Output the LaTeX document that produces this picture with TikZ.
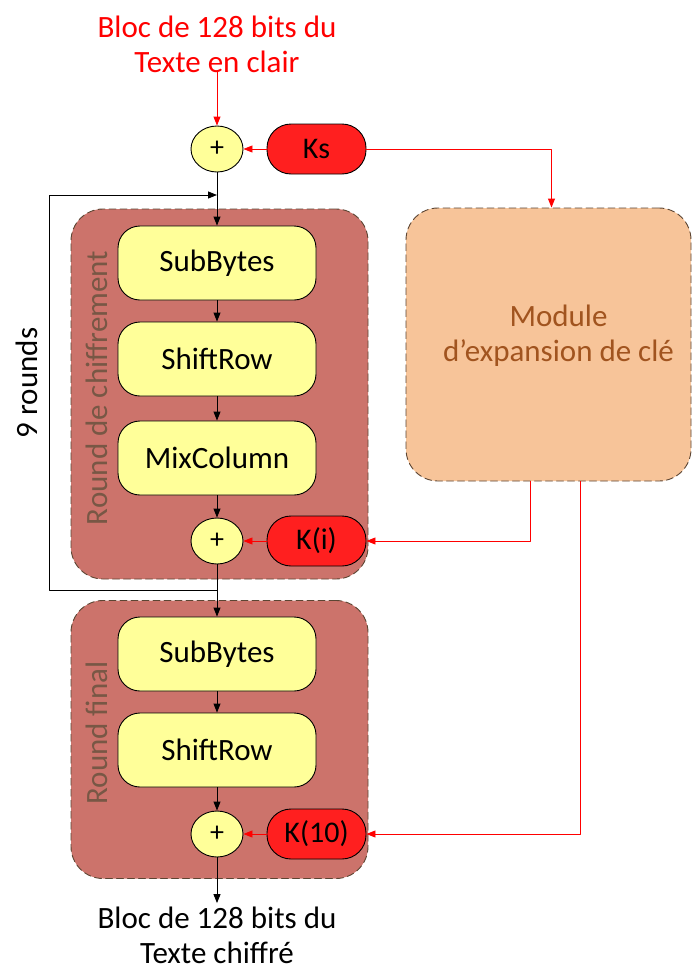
\documentclass[tikz,border=0pt]{standalone}
\usepackage{fontspec}
\setmainfont{Carlito}
\usetikzlibrary{arrows.meta,shapes.geometric}
\definecolor{ffqqqq}{rgb}{1,0,0}
\definecolor{ffcccc}{rgb}{1,0.12,0.12}
\definecolor{ffff99}{rgb}{1,1,0.6}
\definecolor{cc7369}{rgb}{0.8,0.45,0.42}
\definecolor{f8c49a}{rgb}{0.97,0.77,0.6}
\definecolor{a0541e}{rgb}{0.63,0.33,0.12}
\definecolor{7d5a4a}{rgb}{0.47,0.34,0.27}
\definecolor{5c4433}{rgb}{0.36,0.27,0.2}
\tikzset{
  txt/.style={font=\fontsize{31}{35}\selectfont,align=center},
  etape/.style={draw,fill=ffff99,rounded corners=22pt,minimum width=198pt,minimum height=74pt,font=\fontsize{31}{35}\selectfont,line width=0.9pt},
  xor/.style={draw,ellipse,fill=ffff99,minimum width=52pt,minimum height=46pt,inner sep=0pt,font=\fontsize{28}{28}\selectfont,line width=0.9pt},
  cle/.style={draw,fill=ffcccc,rounded corners=24pt,minimum width=99pt,minimum height=50pt,font=\fontsize{30}{30}\selectfont,line width=0.9pt},
  bloc/.style={draw=5c4433,dashed,dash pattern=on 7pt off 4pt,fill=cc7369,rounded corners=32pt,line width=0.9pt},
  rouge/.style={color=ffqqqq,->,line width=0.9pt},
  noir/.style={->,line width=0.9pt}
}
\begin{document}
\begin{tikzpicture}[x=1pt,y=-1pt,line cap=round,line join=round,>={Triangle[length=9pt,width=7pt]}]
	\useasboundingbox (0,0) rectangle (692,969);
	% fonds des rounds et module de cles
	\node[bloc,minimum width=297pt,minimum height=370pt] (r1) at (219.5,394) {};
	\node[bloc,minimum width=297pt,minimum height=278pt] (r2) at (219.5,739.5) {};
	\node[bloc,fill=f8c49a,minimum width=285pt,minimum height=273pt,txt,text=a0541e] (mod) at (548.5,344.5) {\hspace*{20pt}Module\\\hspace*{20pt}d’expansion de clé\\[-12pt]\mbox{}};
	\node[txt,text=7d5a4a,rotate=90] (lr1) at (97,388) {Round de chiffrement};
	\node[txt,text=7d5a4a,rotate=90] (lr2) at (97,733) {Round final};
	\node[txt,rotate=90] (nr) at (27,383) {9 rounds};
	% entree
	\node[txt,text=ffqqqq] (entree) at (217,44) {Bloc de 128 bits du\\Texte en clair};
	\node[xor] (p1) at (217,149) {+};
	\node[cle] (ks) at (316.5,149) {Ks};
	% round de chiffrement
	\node[etape] (sb1) at (217,263) {SubBytes};
	\node[etape] (sr1) at (217,359) {ShiftRow};
	\node[etape] (mc1) at (217,458) {MixColumn};
	\node[xor] (p2) at (217,541) {+};
	\node[cle] (ki) at (316.5,541) {K(i)};
	% round final
	\node[etape] (sb2) at (217,654) {SubBytes};
	\node[etape] (sr2) at (217,750) {ShiftRow};
	\node[xor] (p3) at (217,834) {+};
	\node[cle] (k10) at (316.5,834) {K(10)};
	\node[txt] (sortie) at (217,935) {Bloc de 128 bits du\\Texte chiffré};
	\coordinate (bg) at (49,590);
	\coordinate (hg) at (49,195);
	% liaisons
	\draw[rouge] ([yshift=5pt]entree.south) -- (p1);
	\draw[rouge] (ks) -- (p1);
	\draw[rouge] (ks.east) -| ([xshift=3pt]mod.north);
	\draw[noir] (p1) -- (sb1);
	\draw[noir] (sb1) -- (sr1);
	\draw[noir] (sr1) -- (mc1);
	\draw[noir] (mc1) -- (p2);
	\draw[rouge] (ki) -- (p2);
	\draw[rouge] ([xshift=-18pt]mod.south) |- (ki.east);
	\draw[noir] (p2) -- (sb2);
	\draw[noir] (p2 |- bg) -- (bg) -- (hg) -- (hg -| p1);
	\draw[noir] (sb2) -- (sr2);
	\draw[noir] (sr2) -- (p3);
	\draw[rouge] (k10) -- (p3);
	\draw[rouge] ([xshift=32pt]mod.south) |- (k10.east);
	\draw[noir] (p3) -- (sortie);
\end{tikzpicture}
\end{document}
